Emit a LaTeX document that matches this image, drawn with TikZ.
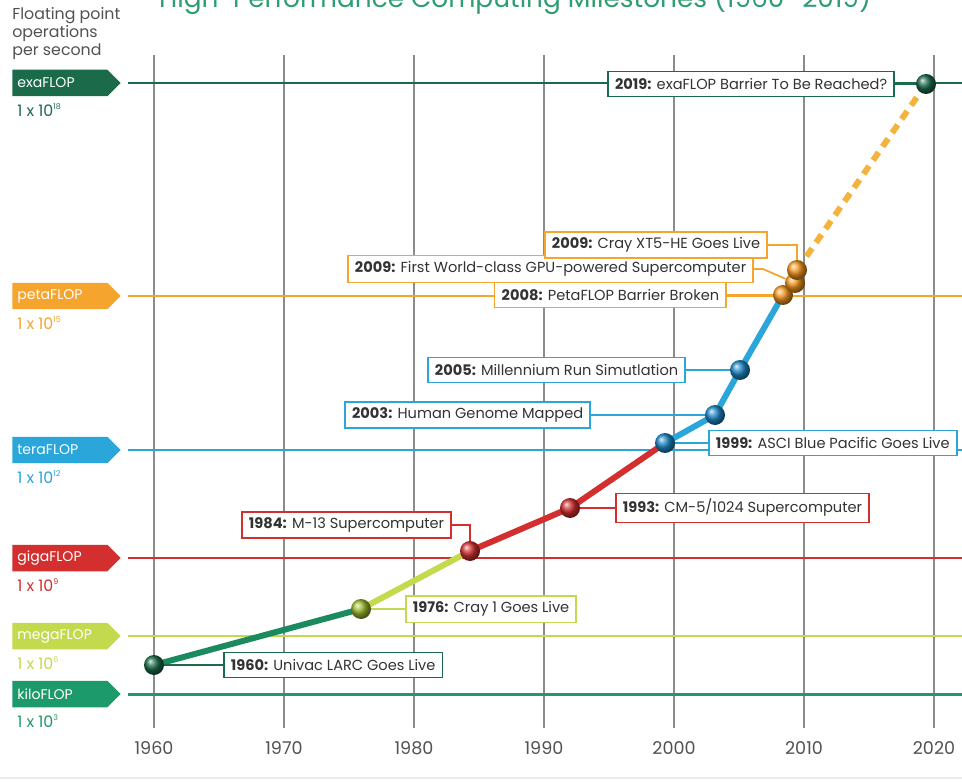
\documentclass[tikz,border=0pt]{standalone}
\usepackage{fontspec}
\setmainfont{Poppins}
\usetikzlibrary{shapes.symbols}
\definecolor{exa}{HTML}{1B6B4B}
\definecolor{peta}{HTML}{F5A52E}
\definecolor{tera}{HTML}{2AA6DA}
\definecolor{giga}{HTML}{D32F2F}
\definecolor{mega}{HTML}{C3D94E}
\definecolor{kilo}{HTML}{1D9A6C}
\definecolor{gridgray}{HTML}{8C8C8C}
\definecolor{ink}{HTML}{333333}
\definecolor{titlegreen}{HTML}{2E9E72}
\definecolor{olive}{HTML}{9DB92C}
\definecolor{blueball}{HTML}{1E88C8}
\definecolor{orangeball}{HTML}{F5961E}
\definecolor{dashorange}{HTML}{F3B33D}
\definecolor{firstseg}{HTML}{1B8A5E}
\begin{document}
\begin{tikzpicture}[x=0.02cm, y=-0.02cm,
    tag/.style={signal, signal to=east, fill=#1, text=white, font=\fontsize{8}{9}\selectfont,
        minimum height=0.53cm, text width=1.7cm, inner xsep=0.1cm, inner ysep=0, anchor=west},
    power/.style={anchor=west, text=#1, font=\fontsize{9}{10}\selectfont, inner sep=0},
    level/.style={draw=#1, line width=1.7pt},
    gridline/.style={draw=gridgray, line width=0.85pt},
    traj/.style={draw=#1, line width=3.4pt},
    ball/.style={circle, minimum size=0.4cm, inner sep=0, shading=ball, ball color=#1},
    note/.style={draw=#1, fill=white, line width=0.9pt, text=ink, font=\fontsize{8.3}{9}\selectfont,
        inner xsep=4pt, minimum height=0.5cm},
    conn/.style={draw=#1, line width=1pt}]
    \path[use as bounding box, fill=white] (0,0) rectangle (962,783);
    \draw[black!8, line width=1pt] (0,778) -- (962,778);
    \node[anchor=base west, text=titlegreen, font=\fontsize{15}{18}\selectfont] (title) at (153,8)
        {High-Performance Computing Milestones (1960–2019)};
    \node[anchor=north west, align=left, inner sep=0, text=ink!85, font=\fontsize{9}{10.2}\selectfont] (unit) at (12,7)
        {Floating point\\operations\\per second};
    \foreach \yr in {1960,1970,...,2020} {
        \draw[gridline] ({154+(\yr-1960)*13},55) -- ({154+(\yr-1960)*13},728);
        \node[text=ink!85, font=\fontsize{10}{12}\selectfont] (Y\yr) at ({154+(\yr-1960)*13},748) {\yr};
    }
    \foreach \n/\c/\y/\e in {exaFLOP/exa/83/18, petaFLOP/peta/296/15, teraFLOP/tera/450/12,
            gigaFLOP/giga/558/9, megaFLOP/mega/636/6, kiloFLOP/kilo/694/3} {
        \draw[level=\c] (128,\y) -- (962,\y);
        \node[tag=\c] (T\n) at (12,\y) {\n};
        \node[power=\c] (E\n) at (17,\y+27) {1 x 10\textsuperscript{\fontsize{4.5}{5}\selectfont\e}};
    }
    \coordinate (P60) at (154,665);
    \coordinate (P76) at (361,609);
    \coordinate (P84) at (470,551);
    \coordinate (P93) at (570,508);
    \coordinate (P99) at (665,443);
    \coordinate (P03) at (715,415);
    \coordinate (P05) at (740,370);
    \coordinate (P08) at (783,295);
    \coordinate (P09a) at (795,283);
    \coordinate (P09c) at (797,270);
    \coordinate (P19) at (926,84);
    \draw[traj=firstseg] (P60) -- (P76);
    \draw[traj=mega] (P76) -- (P84);
    \draw[traj=giga] (P84) -- (P93) -- (P99);
    \draw[traj=tera] (P99) -- (P03) -- (P05) -- (P08);
    \draw[traj=peta] (P08) -- (P09a) -- (P09c);
    \draw[traj=dashorange, dash pattern=on 5.5pt off 4pt] (P09c) -- (P19);
    \node[note=exa, anchor=west] (L60) at (223,665) {\textbf{1960:} Univac LARC Goes Live};
    \node[note=mega, anchor=west] (L76) at (405,609) {\textbf{1976:} Cray 1 Goes Live};
    \node[note=giga, anchor=east] (L84) at (452,525) {\textbf{1984:} M-13 Supercomputer};
    \node[note=giga, anchor=west] (L93) at (615,508) {\textbf{1993:} CM-5/1024 Supercomputer};
    \node[note=tera, anchor=west] (L99) at (708,443) {\textbf{1999:} ASCI Blue Pacific Goes Live};
    \node[note=tera, anchor=east] (L03) at (591,415) {\textbf{2003:} Human Genome Mapped};
    \node[note=tera, anchor=east] (L05) at (686,370) {\textbf{2005:} Millennium Run Simutlation};
    \node[note=peta, anchor=east] (L08) at (727,295) {\textbf{2008:} PetaFLOP Barrier Broken};
    \node[note=peta, anchor=east] (L09g) at (754,269) {\textbf{2009:} First World-class GPU-powered Supercomputer};
    \node[note=peta, anchor=east] (L09c) at (768,245) {\textbf{2009:} Cray XT5-HE Goes Live};
    \node[note=exa, anchor=east] (L19) at (895,84) {\textbf{2019:} exaFLOP Barrier To Be Reached?};
    \node[ball=exa] (B60) at (P60) {};
    \node[ball=olive] (B76) at (P76) {};
    \node[ball=giga] (B84) at (P84) {};
    \node[ball=giga] (B93) at (P93) {};
    \node[ball=blueball] (B99) at (P99) {};
    \node[ball=blueball] (B03) at (P03) {};
    \node[ball=blueball] (B05) at (P05) {};
    \node[ball=orangeball] (B08) at (P08) {};
    \node[ball=orangeball] (B09a) at (P09a) {};
    \node[ball=orangeball] (B09c) at (P09c) {};
    \node[ball=exa] (B19) at (P19) {};
    \draw[conn=exa] (B60) -- (L60);
    \draw[conn=mega] (B76) -- (L76);
    \draw[conn=giga] (L84.east) -| (B84);
    \draw[conn=giga] (B93) -- (L93);
    \draw[conn=tera] (B99) -- (L99);
    \draw[conn=tera] (B03) -- (L03);
    \draw[conn=tera] (B05) -- (L05);
    \draw[conn=peta] (B08) -- (L08);
    \draw[conn=peta] (L09g.east) -- ++(9,0) -- (B09a);
    \draw[conn=peta] (L09c.east) -| (B09c);
    \draw[conn=exa] (B19) -- (L19);
\end{tikzpicture}
\end{document}
